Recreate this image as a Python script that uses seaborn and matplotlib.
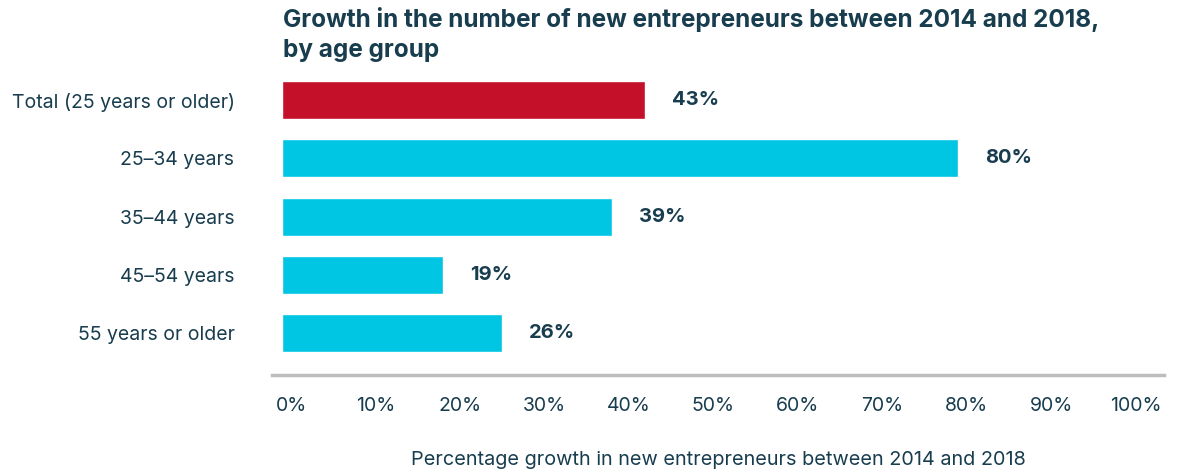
import matplotlib
matplotlib.use("Agg")
import matplotlib.pyplot as plt
import matplotlib.transforms as mtransforms
import pandas as pd
import seaborn as sns

# data
groups = ["Total (25 years or older)", "25\u201334 years", "35\u201344 years",
          "45\u201354 years", "55 years or older"]
growth = [43, 80, 39, 19, 26]
bar_colors = ["#C41029", "#00C5E3", "#00C5E3", "#00C5E3", "#00C5E3"]
ticks = [0, 10, 20, 30, 40, 50, 60, 70, 80, 90, 100]

navy = "#183D4E"
sns.set_style("white")
plt.rcParams["font.family"] = ["Inter", "DejaVu Sans"]

df = pd.DataFrame({"group": groups, "growth": growth})

fig = plt.figure(figsize=(11.83, 4.71), dpi=100)
ax = fig.add_axes([272 / 1183, 1 - 375 / 471, (1164 - 272) / 1183, (375 - 71) / 471])

sns.barplot(data=df, x="growth", y="group", hue="group", palette=bar_colors,
            legend=False, width=0.65, saturation=1, ax=ax)

ax.set_xlim(-1.2, 104.4)
ax.set_ylim(4.72, -0.5)
ax.set_xticks(ticks)
ax.set_xticklabels([f"{t}%" for t in ticks])
ax.tick_params(axis="x", length=0, pad=15.5, labelsize=14, labelcolor=navy)
ax.tick_params(axis="y", length=0, pad=27, labelsize=14, labelcolor=navy)
# tick labels sit a bit right of their grid value in the original
off = mtransforms.ScaledTranslation(9 / 100, 0, fig.dpi_scale_trans)
for lab in ax.get_xticklabels():
    lab.set_transform(lab.get_transform() + off)

for s in ["top", "right", "left"]:
    ax.spines[s].set_visible(False)
ax.spines["bottom"].set_color("#BDBDBD")
ax.spines["bottom"].set_linewidth(2.5)

for i, v in enumerate(growth):
    ax.annotate(f"{v}%", (v, i), xytext=(27, 0), textcoords="offset pixels",
                va="center", ha="left", fontsize=14.5, fontweight="bold", color=navy)

ax.set_xlabel("Percentage growth in new entrepreneurs between 2014 and 2018",
              fontsize=14.3, color=navy, labelpad=26)
ax.set_ylabel("")

fig.text(283 / 1183, 1 - 7 / 471,
         "Growth in the number of new entrepreneurs between 2014 and 2018,\nby age group",
         ha="left", va="top", fontsize=17.5, fontweight="bold", color=navy,
         linespacing=1.38)

fig.savefig("out.png", dpi=100)
